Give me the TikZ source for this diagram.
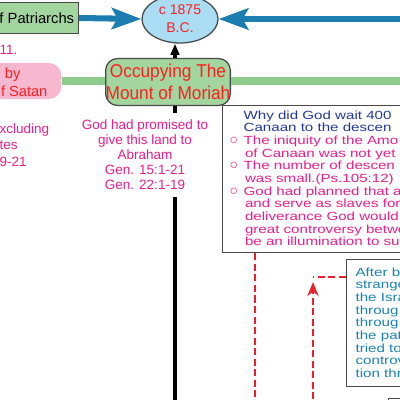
\documentclass[tikz,border=0pt]{standalone}
\usepackage{fontspec}
\setmainfont{Liberation Sans}
\newfontfamily\widefont[FakeStretch=1.28]{Liberation Sans}
\newfontfamily\narrowfont[FakeStretch=0.93]{Liberation Sans}
\usetikzlibrary{arrows.meta, positioning, shapes.geometric, calc}
\definecolor{cgreen}{HTML}{A2D69E}
\definecolor{cline}{HTML}{8FCB8A}
\definecolor{cblue}{HTML}{1B7DB0}
\definecolor{csky}{HTML}{AADDF4}
\definecolor{cpink}{HTML}{F7B7CF}
\definecolor{cred}{HTML}{FF1F1F}
\definecolor{cmag}{HTML}{EA1E8C}
\definecolor{cnavy}{HTML}{23399B}
\definecolor{cteal}{HTML}{1C84B5}
\definecolor{cgrey}{HTML}{4A4A4A}
\definecolor{cdash}{HTML}{E8202A}
\newcommand{\bul}{\llap{{\normalfont\fontsize{10}{9}\selectfont ○}\hspace{4pt}}}
\tikzset{
  every picture/.style={line width=0.9pt},
  box/.style={draw=cgrey, fill=#1, align=center, inner sep=0pt},
  box/.default=white,
  bigarrow/.style={-{Stealth[length=21pt, width=15pt, inset=4pt]}, draw=cblue, line width=4.3pt},
  band/.style={draw=cline, line width=5.7pt},
  reddash/.style={draw=cdash, line width=1.8pt, dash pattern=on 5pt off 2.5pt},
  pinktext/.style={text=cmag, font=\fontsize{9.6}{10.7}\selectfont, align=center},
  boxtext/.style={font=\widefont\fontsize{8.4}{9}\selectfont, align=left, inner sep=0pt},
}

\begin{document}
\begin{tikzpicture}[x=0.025cm, y=-0.025cm]
  \useasboundingbox (0,0) rectangle (400,400);
  \clip (0,0) rectangle (400,400);
  \node[box=cgreen, anchor=east, minimum height=0.775cm, inner xsep=3pt, font=\fontsize{10.5}{12}\selectfont] (pat) at (79,18) {f Patriarchs};
  \node[ellipse, box=csky, minimum width=1.9cm, minimum height=1.2cm, text=cred, font=\fontsize{10}{12.8}\selectfont] (era) at (180,19) {c 1875\\B.C.};
  \node[box=cgreen, rounded corners=8.5pt, minimum width=3.05cm, minimum height=1.175cm, text=cred, font=\narrowfont\fontsize{13.2}{15.6}\selectfont] (occ) at (168,82) {Occupying The\\Mount of Moriah};
  \node[fill=cpink, rounded corners=9pt, anchor=east, minimum width=2cm, minimum height=0.9cm] (satan) at (62,81) {};
  \node[anchor=base east, text=cred, font=\fontsize{10.4}{12}\selectfont, inner sep=0pt] (satanA) at (21,79) {d by};
  \node[anchor=base east, text=cred, font=\fontsize{10.4}{12}\selectfont, inner sep=0pt] (satanB) at (48,97) {f Satan};
  \node[anchor=base west, text=cmag, font=\fontsize{9.6}{10.7}\selectfont, inner sep=0pt] (verse) at (-1,55) {11.};
  \node[pinktext, align=left, anchor=north west, inner sep=0pt, font=\fontsize{9.6}{11.6}\selectfont] (excl) at (-1,123) {xcluding\\tes\\9-21};

  \coordinate (foot) at (175,410);
  \coordinate (feed) at (410,19);
  \coordinate (far) at (410,81);
  \draw[line width=2.8pt] (occ.south -| foot) -- (foot);
  \draw[line width=2.2pt, -{Triangle[length=8pt, width=6pt]}] (occ.north -| foot) -- (era.south -| foot);
  \draw[bigarrow] (pat.east) -- (era.west);
  \draw[bigarrow] (feed) -- (era.east);
  \draw[band] (satan.east) -- (occ.west |- satan.east);
  \draw[band] (occ.east |- far) -- (far);
  \node[pinktext, fill=white, inner sep=5pt] (promise) at (145,155) {God had promised to\\give this land to\\Abraham\\Gen. 15:1-21\\Gen. 22:1-19};

  \node[box, anchor=north west, minimum width=5cm, minimum height=3.675cm] (why) at (222,105) {};
  \node[boxtext, text=cmag, anchor=north west] (whytext) at (243,110) {\textcolor{cnavy}{Why did God wait 400}\\
    \textcolor{cnavy}{Canaan to the descen}\\
    \bul The iniquity of the Amo\\
    \hspace*{1pt}of Canaan was not yet\\
    \bul The number of descen\\
    \hspace*{1pt}was small.(Ps.105:12)\\
    \bul God had planned that afte\\
    \hspace*{1pt}and serve as slaves for\\
    \hspace*{1pt}deliverance God would\\
    \hspace*{1pt}great controversy betwee\\
    \hspace*{1pt}be an illumination to subs};
  \node[box, anchor=north west, minimum width=2.5cm, minimum height=3.175cm] (after) at (346,259) {};
  \node[boxtext, text=cteal, anchor=north west] (aftertext) at (355,267) {After b\\strange\\the Isra\\throug\\throug\\the pat\\tried to\\controv\\tion thr};
  \node[box, anchor=north west, minimum width=1cm, minimum height=1cm] (next) at (388,398) {};

  \coordinate (drop) at (255,410);
  \coordinate (kink) at (313,277);
  \coordinate (rise) at (313,410);
  \draw[reddash] (why.south -| drop) -- (drop);
  \draw[reddash] (after.west |- kink) -- (kink);
  \draw[reddash, -{Stealth[length=10pt, width=8pt]}] (rise) -- ($(kink)+(0,5)$);
\end{tikzpicture}
\end{document}
